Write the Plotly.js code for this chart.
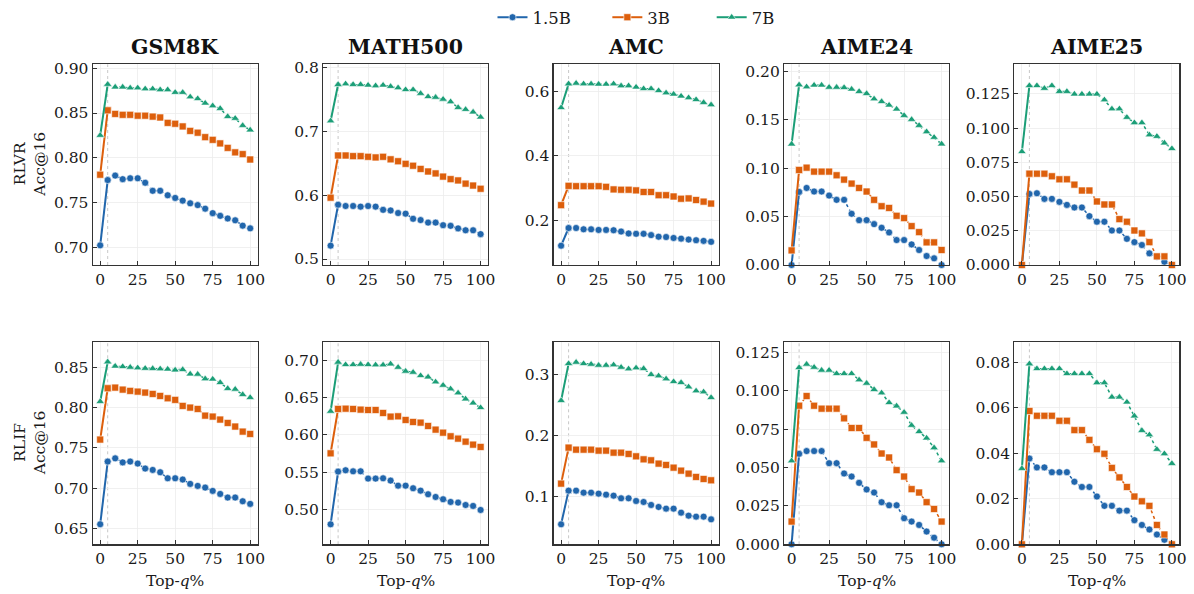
<!DOCTYPE html>
<html>
<head>
<meta charset="utf-8">
<script src="https://cdn.plot.ly/plotly-3.0.1.min.js"></script>
<style>html,body{margin:0;padding:0;background:#fff;}#chart{width:1194px;height:594px;}</style>
</head>
<body>
<div id="chart"></div>
<script>
// ---------- data ----------
const topQ = [0,5,10,15,20,25,30,35,40,45,50,55,60,65,70,75,80,85,90,95,100];
const models = ['1.5B','3B','7B'];
const benchmarks = ['GSM8K','MATH500','AMC','AIME24','AIME25'];
const rowLabels = ['RLVR<br>Acc@16','RLIF<br>Acc@16'];
const xTickVals = [0,25,50,75,100];

// RLVR
const gsm8k_rlvr_15b = [0.702,0.775,0.780,0.776,0.777,0.777,0.772,0.763,0.763,0.758,0.755,0.752,0.749,0.747,0.743,0.738,0.735,0.732,0.730,0.724,0.721];
const gsm8k_rlvr_3b  = [0.781,0.853,0.849,0.848,0.848,0.847,0.847,0.846,0.845,0.839,0.838,0.835,0.830,0.828,0.823,0.820,0.816,0.811,0.806,0.804,0.798];
const gsm8k_rlvr_7b  = [0.825,0.882,0.879,0.879,0.878,0.878,0.877,0.877,0.876,0.876,0.873,0.873,0.868,0.866,0.861,0.858,0.855,0.846,0.844,0.836,0.831];

const math500_rlvr_15b = [0.521,0.585,0.583,0.583,0.582,0.583,0.582,0.577,0.576,0.572,0.571,0.563,0.561,0.557,0.557,0.553,0.552,0.548,0.545,0.545,0.539];
const math500_rlvr_3b  = [0.596,0.662,0.662,0.661,0.661,0.660,0.659,0.660,0.656,0.653,0.649,0.646,0.641,0.637,0.634,0.629,0.625,0.623,0.618,0.615,0.610];
const math500_rlvr_7b  = [0.716,0.773,0.774,0.773,0.773,0.772,0.771,0.772,0.770,0.768,0.765,0.765,0.759,0.754,0.753,0.750,0.746,0.737,0.734,0.730,0.722];

const amc_rlvr_15b = [0.121,0.176,0.176,0.172,0.172,0.170,0.170,0.169,0.165,0.159,0.158,0.158,0.154,0.149,0.148,0.145,0.143,0.140,0.138,0.136,0.133];
const amc_rlvr_3b  = [0.247,0.307,0.306,0.306,0.306,0.306,0.304,0.296,0.295,0.295,0.293,0.288,0.288,0.278,0.278,0.274,0.267,0.268,0.263,0.258,0.252];
const amc_rlvr_7b  = [0.550,0.624,0.626,0.624,0.624,0.623,0.623,0.624,0.618,0.618,0.614,0.609,0.609,0.603,0.596,0.592,0.586,0.581,0.575,0.566,0.559];

const aime24_rlvr_15b = [0,0.0756,0.0797,0.076,0.076,0.0718,0.0674,0.0674,0.053,0.0464,0.0464,0.0423,0.0385,0.0337,0.0258,0.0258,0.0213,0.0155,0.0093,0.0069,0];
const aime24_rlvr_3b  = [0.0151,0.0983,0.1007,0.0966,0.0966,0.0966,0.0928,0.0883,0.0842,0.0797,0.076,0.0674,0.0608,0.059,0.0509,0.0485,0.0402,0.034,0.0234,0.0234,0.0155];
const aime24_rlvr_7b  = [0.125,0.1863,0.1842,0.186,0.186,0.1838,0.1838,0.1835,0.1818,0.1794,0.1773,0.1718,0.169,0.1653,0.1612,0.1546,0.1505,0.1443,0.1378,0.132,0.1251];

const aime25_rlvr_15b = [0,0.0519,0.0524,0.0483,0.0483,0.0461,0.0439,0.042,0.042,0.0357,0.0316,0.0316,0.0252,0.0252,0.0191,0.0167,0.0146,0.0085,0.006,0.0024,0];
const aime25_rlvr_3b  = [0,0.0667,0.0667,0.0667,0.0648,0.0626,0.0626,0.0587,0.0544,0.0544,0.0464,0.0442,0.0442,0.0335,0.0316,0.0252,0.0231,0.0167,0.0063,0.0063,0];
const aime25_rlvr_7b  = [0.0828,0.131,0.131,0.129,0.131,0.1267,0.1267,0.1248,0.1248,0.1248,0.1248,0.1206,0.114,0.114,0.1078,0.1039,0.1039,0.095,0.0939,0.0891,0.085];

// RLIF
const gsm8k_rlif_15b = [0.655,0.733,0.737,0.732,0.733,0.7305,0.7243,0.7226,0.7197,0.7122,0.7122,0.7106,0.7052,0.7027,0.7006,0.6965,0.6927,0.6882,0.6882,0.6836,0.6803];
const gsm8k_rlif_3b  = [0.7604,0.8243,0.8251,0.8226,0.821,0.8201,0.8189,0.8172,0.8147,0.8118,0.8098,0.8023,0.8002,0.7985,0.7902,0.789,0.7853,0.7811,0.7766,0.7703,0.7674];
const gsm8k_rlif_7b  = [0.8077,0.857,0.8517,0.8512,0.8504,0.8496,0.849,0.8488,0.8484,0.848,0.847,0.8475,0.842,0.8417,0.836,0.8356,0.8313,0.8239,0.823,0.8164,0.8127];

const math500_rlif_15b = [0.4798,0.5507,0.5525,0.5511,0.5511,0.5413,0.5413,0.5417,0.5386,0.5318,0.5318,0.5283,0.5251,0.5202,0.5166,0.5135,0.5099,0.509,0.5058,0.5045,0.4991];
const math500_rlif_3b  = [0.5753,0.635,0.6354,0.635,0.6341,0.6336,0.6336,0.6296,0.6247,0.6251,0.6202,0.6175,0.6166,0.6121,0.6072,0.6031,0.5982,0.5951,0.591,0.587,0.5839];
const math500_rlif_7b  = [0.6318,0.6978,0.6946,0.6946,0.695,0.6946,0.6942,0.6942,0.6955,0.691,0.6857,0.6843,0.6798,0.678,0.6713,0.6668,0.6619,0.6565,0.6484,0.643,0.6368];

const amc_rlif_15b = [0.0548,0.1098,0.1098,0.1065,0.1065,0.1049,0.1033,0.1016,0.0973,0.0973,0.0929,0.0913,0.0864,0.0831,0.0804,0.0804,0.0738,0.0689,0.0673,0.0673,0.0629];
const amc_rlif_3b  = [0.1213,0.1801,0.1768,0.1768,0.1768,0.1752,0.1752,0.1719,0.1719,0.1698,0.1659,0.161,0.1594,0.154,0.1518,0.1474,0.1425,0.1376,0.1322,0.1289,0.1267];
const amc_rlif_7b  = [0.257,0.3174,0.3196,0.3174,0.3163,0.3147,0.3147,0.3153,0.3114,0.3087,0.3104,0.3093,0.2995,0.2973,0.2924,0.288,0.2864,0.2793,0.2728,0.2711,0.2619];

const aime24_rlif_15b = [0,0.0589,0.0607,0.0607,0.0607,0.0528,0.0528,0.0461,0.0441,0.040,0.0357,0.0337,0.0274,0.0254,0.0254,0.017,0.0148,0.0126,0.0083,0.0043,0];
const aime24_rlif_3b  = [0.0148,0.0902,0.0965,0.0902,0.0883,0.0883,0.0883,0.082,0.0757,0.0757,0.0693,0.065,0.0591,0.0565,0.0483,0.0441,0.0359,0.0337,0.0274,0.023,0.0148];
const aime24_rlif_7b  = [0.0543,0.115,0.1172,0.1152,0.1133,0.1133,0.1111,0.1111,0.1111,0.107,0.1048,0.1007,0.0985,0.0922,0.09,0.0859,0.0774,0.0733,0.0691,0.0628,0.0543];

const aime25_rlif_15b = [0,0.0377,0.0338,0.0338,0.0317,0.0317,0.0317,0.0275,0.0252,0.0252,0.021,0.0169,0.0169,0.0148,0.0148,0.0106,0.0085,0.0065,0.0043,0.002,0];
const aime25_rlif_3b  = [0,0.0586,0.0565,0.0565,0.0565,0.0543,0.0543,0.0502,0.0502,0.0459,0.0418,0.0398,0.0336,0.0294,0.0252,0.021,0.0189,0.0169,0.0085,0.0043,0];
const aime25_rlif_7b  = [0.0333,0.0793,0.0772,0.0772,0.0772,0.0772,0.075,0.075,0.075,0.075,0.071,0.071,0.0647,0.0647,0.0625,0.0564,0.05,0.0481,0.0417,0.0398,0.0355];

// ---------- styling ----------
const colors = ['#2166ac','#dd5f0c','#1b9e77'];
const symbols = ['circle','square','triangle-up'];
const msizes = [7,7,7.5];
const legendPad = [6,7,0]; // trailing spacing after legend labels (non-breaking spaces)

const grid = [
  [ [gsm8k_rlvr_15b,gsm8k_rlvr_3b,gsm8k_rlvr_7b],
    [math500_rlvr_15b,math500_rlvr_3b,math500_rlvr_7b],
    [amc_rlvr_15b,amc_rlvr_3b,amc_rlvr_7b],
    [aime24_rlvr_15b,aime24_rlvr_3b,aime24_rlvr_7b],
    [aime25_rlvr_15b,aime25_rlvr_3b,aime25_rlvr_7b] ],
  [ [gsm8k_rlif_15b,gsm8k_rlif_3b,gsm8k_rlif_7b],
    [math500_rlif_15b,math500_rlif_3b,math500_rlif_7b],
    [amc_rlif_15b,amc_rlif_3b,amc_rlif_7b],
    [aime24_rlif_15b,aime24_rlif_3b,aime24_rlif_7b],
    [aime25_rlif_15b,aime25_rlif_3b,aime25_rlif_7b] ]
];

const yAxisCfg = [
  [ {range:[0.680,0.9045], dtick:0.05, tick0:0, fmt:'.2f'},
    {range:[0.4907,0.8047], dtick:0.1, tick0:0, fmt:'.1f'},
    {range:[0.061,0.685], dtick:0.2, tick0:0, fmt:'.1f'},
    {range:[0,0.2076], dtick:0.05, tick0:0, fmt:'.2f'},
    {range:[0,0.1466], dtick:0.025, tick0:0, fmt:'.3f'} ],
  [ {range:[0.630,0.8815], dtick:0.05, tick0:0, fmt:'.2f'},
    {range:[0.4529,0.7247], dtick:0.05, tick0:0, fmt:'.2f'},
    {range:[0.0221,0.3523], dtick:0.1, tick0:0, fmt:'.1f'},
    {range:[0,0.1315], dtick:0.025, tick0:0, fmt:'.3f'},
    {range:[0,0.0888], dtick:0.02, tick0:0, fmt:'.2f'} ]
];

const W = 1194, H = 594;
const panelLeft = [92.7, 323.1, 553.6, 784.1, 1014.4];
const panelW = 165;
const rowTop = [64.3, 342.3];
const rowBot = [265.0, 544.3];

const FONT = 'DejaVu Serif, Liberation Serif, serif';
const TICKFONT = {family: FONT, size: 15.5, color: '#1a1a1a'};
const data = [];
const layout = {
  width: W, height: H,
  margin: {l:0, r:0, t:0, b:0},
  paper_bgcolor: '#ffffff',
  plot_bgcolor: '#ffffff',
  font: {family: FONT, size: 15, color: '#1a1a1a'},
  showlegend: true,
  legend: {orientation:'h', x:0.5 + 39/W, xanchor:'center', y:1, yanchor:'top',
           font:{family:FONT, size:16.5, color:'#1a1a1a'}, itemwidth:30, traceorder:'normal',
           bgcolor:'rgba(0,0,0,0)'},
  annotations: [],
  shapes: []
};

let k = 0;
for (let r = 0; r < 2; r++) {
  for (let c = 0; c < 5; c++) {
    k++;
    const xa = 'xaxis' + (k === 1 ? '' : k);
    const ya = 'yaxis' + (k === 1 ? '' : k);
    const xr = 'x' + (k === 1 ? '' : k);
    const yr = 'y' + (k === 1 ? '' : k);
    const cfg = yAxisCfg[r][c];
    layout[xa] = {
      domain: [panelLeft[c]/W, (panelLeft[c]+panelW)/W],
      anchor: yr, range: [-5,105], tickvals: xTickVals,
      showline: true, mirror: true, linecolor: '#333', linewidth: 1.2,
      ticks: 'inside', ticklen: 4, tickcolor: '#333', tickwidth: 1,
      showgrid: true, gridcolor: '#ececec', gridwidth: 0.8, zeroline: false,
      tickfont: TICKFONT
    };
    layout[ya] = {
      domain: [1-rowBot[r]/H, 1-rowTop[r]/H],
      anchor: xr, range: cfg.range, dtick: cfg.dtick, tick0: cfg.tick0, tickformat: cfg.fmt,
      showline: true, mirror: true, linecolor: '#333', linewidth: 1.2,
      ticks: 'inside', ticklen: 4, tickcolor: '#333', tickwidth: 1,
      showgrid: true, gridcolor: '#ececec', gridwidth: 0.8, zeroline: false,
      tickfont: TICKFONT
    };
    // vertical reference line at q = 5
    layout.shapes.push({type:'line', xref:xr, yref:yr+' domain', x0:5, x1:5, y0:0, y1:1,
      line:{color:'#c8c8c8', width:1, dash:'dot'}, layer:'below'});

    const series = grid[r][c];
    for (let s = 0; s < 3; s++) {
      const ys = series[s];
      // dotted continuation from q=5 onward
      data.push({
        x: topQ.slice(1), y: ys.slice(1), xaxis: xr, yaxis: yr,
        mode: 'lines+markers', type: 'scatter', showlegend: false,
        legendgroup: models[s], cliponaxis: false,
        line: {color: colors[s], width: 1.5, dash: 'dot'},
        marker: {symbol: symbols[s], size: msizes[s], color: colors[s],
                 line: {color: 'rgba(255,255,255,0.75)', width: 0.8}},
        hoverinfo: 'skip'
      });
      // solid first segment q=0 -> q=5
      data.push({
        x: topQ.slice(0,2), y: ys.slice(0,2), xaxis: xr, yaxis: yr,
        mode: 'lines+markers', type: 'scatter',
        name: models[s] + '\u00a0'.repeat(legendPad[s]),
        showlegend: k === 1, legendgroup: models[s], cliponaxis: false,
        line: {color: colors[s], width: 2},
        marker: {symbol: symbols[s], size: msizes[s], color: colors[s],
                 line: {color: 'rgba(255,255,255,0.75)', width: 0.8}},
        hoverinfo: 'skip'
      });
    }
    if (r === 0) {
      layout.annotations.push({text: '<b>' + benchmarks[c] + '</b>', xref:'paper', yref:'paper',
        x: (panelLeft[c] + panelW/2)/W, y: 1 - 47/H, xanchor:'center', yanchor:'middle',
        showarrow:false, font:{family:FONT, size:20.5, color:'#111'}});
    } else {
      layout.annotations.push({text: 'Top-<i>q</i>%', xref:'paper', yref:'paper',
        x: (panelLeft[c] + panelW/2)/W, y: 1 - 581/H, xanchor:'center', yanchor:'middle',
        showarrow:false, font:{family:FONT, size:15.5, color:'#1a1a1a'}});
    }
  }
  layout.annotations.push({text: rowLabels[r], xref:'paper', yref:'paper',
    x: 30/W, y: 1 - ((rowTop[r]+rowBot[r])/2)/H, xanchor:'center', yanchor:'middle',
    textangle: -90, showarrow:false, font:{family:FONT, size:15.5, color:'#1a1a1a'}});
}

Plotly.newPlot('chart', data, layout, {displayModeBar:false, staticPlot:true});
</script>
</body>
</html>
